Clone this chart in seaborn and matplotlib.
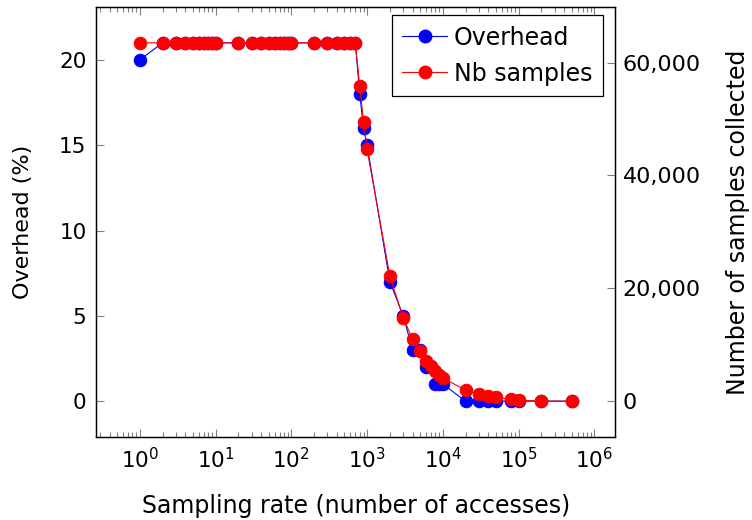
import numpy as np
import pandas as pd
import matplotlib
matplotlib.use("Agg")
import matplotlib.pyplot as plt
import matplotlib.ticker as mticker
import seaborn as sns

# sampling rates (number of accesses between samples)
rates = [1, 2, 3, 4, 5, 6, 7, 8, 9, 10,
         20, 30, 40, 50, 60, 70, 80, 90, 100,
         200, 300, 400, 500, 600, 700, 800, 900, 1000,
         2000, 3000, 4000, 5000, 6000, 7000, 8000, 9000, 10000,
         20000, 30000, 40000, 50000, 80000, 100000, 200000, 500000]

# overhead in percent
overhead = [20, 21, 21, 21, 21, 21, 21, 21, 21, 21,
            21, 21, 21, 21, 21, 21, 21, 21, 21,
            21, 21, 21, 21, 21, 21, 18, 16, 15,
            7, 5, 3, 3, 2, 2, 1, 1, 1,
            0, 0, 0, 0, 0, 0, 0, 0]

# number of samples collected
nb_samples = [63500, 63500, 63500, 63500, 63500, 63500, 63500, 63500, 63500, 63500,
              63500, 63500, 63500, 63500, 63500, 63500, 63500, 63500, 63500,
              63500, 63500, 63500, 63500, 63500, 63500, 55800, 49500, 44600,
              22200, 14700, 11000, 8900, 7200, 6300, 5400, 4700, 4100,
              1950, 1200, 900, 700, 300, 150, 30, 0]

df = pd.DataFrame({"rate": rates, "overhead": overhead, "samples": nb_samples})

sns.set_style("ticks")
plt.rcParams["font.family"] = ["DejaVu Sans"]
plt.rcParams["mathtext.fontset"] = "dejavusans"
plt.rcParams["text.color"] = "black"
plt.rcParams["axes.labelcolor"] = "black"
plt.rcParams["xtick.labelcolor"] = "black"
plt.rcParams["ytick.labelcolor"] = "black"

fig = plt.figure(figsize=(7.52, 5.2), dpi=100)
ax = fig.add_axes([0.128, 0.1596, 0.690, 0.827])
ax2 = ax.twinx()

sns.lineplot(data=df, x="rate", y="overhead", ax=ax, color="blue", marker="o",
             markersize=9, markeredgecolor="blue", linewidth=0.8, legend=False)
sns.lineplot(data=df, x="rate", y="samples", ax=ax2, color="red", marker="o",
             markersize=9, markeredgecolor="red", linewidth=0.8, legend=False)

ax.set_xscale("log")
ax.set_xlim(10 ** -0.575, 10 ** 6.275)
ax.set_ylim(-2.1, 23.1)
ax2.set_ylim(-6350, 69850)

ax.set_xticks([10 ** k for k in range(0, 7)])
ax.xaxis.set_major_formatter(mticker.LogFormatterSciNotation())
ax.xaxis.set_minor_locator(mticker.LogLocator(base=10, subs=np.arange(2, 10), numticks=20))
ax.xaxis.set_minor_formatter(mticker.NullFormatter())
ax.set_yticks([0, 5, 10, 15, 20])
ax2.set_yticks([0, 20000, 40000, 60000])
ax2.yaxis.set_major_formatter(mticker.FuncFormatter(lambda v, p: f"{v:,.0f}"))

tick_col = "#808080"
ax.tick_params(axis="x", which="both", direction="in", top=True, bottom=True,
               color=tick_col, labelsize=15.5, pad=7)
ax.tick_params(axis="x", which="major", length=6, width=0.8)
ax.tick_params(axis="x", which="minor", length=3.5, width=0.8)
ax.tick_params(axis="y", direction="in", left=True, right=False, length=6,
               width=0.8, color=tick_col, labelsize=15.5, pad=7)
ax2.tick_params(axis="y", direction="in", right=True, length=6, width=0.8,
                color=tick_col, labelsize=16, pad=5.5)

for a in (ax, ax2):
    for s in a.spines.values():
        s.set_linewidth(0.9)
        s.set_color("black")

ax.set_xlabel("Sampling rate (number of accesses)", fontsize=17)
ax.set_ylabel("Overhead (%)", fontsize=16)
ax2.set_ylabel("Number of samples collected", fontsize=17)
ax.xaxis.set_label_coords(0.5, -0.132)
ax.yaxis.set_label_coords(-0.122, 0.5)
ax2.yaxis.set_label_coords(1.213, 0.5)

handles = [plt.Line2D([], [], color="blue", marker="o", markersize=9, linewidth=0.8),
           plt.Line2D([], [], color="red", marker="o", markersize=9, linewidth=0.8)]
leg = ax2.legend(handles, ["Overhead", "Nb samples"], loc="upper right",
                 bbox_to_anchor=(0.977, 0.981), borderaxespad=0, fontsize=17,
                 frameon=True, fancybox=False, edgecolor="black", framealpha=1,
                 handlelength=1.9, handletextpad=0.3, borderpad=0.45,
                 labelspacing=0.5)
leg.get_frame().set_linewidth(0.9)

fig.savefig("out.png", dpi=100)
